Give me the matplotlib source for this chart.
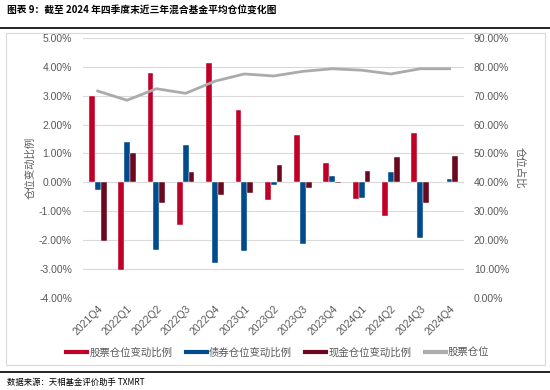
import matplotlib.pyplot as plt
import numpy as np
from matplotlib.lines import Line2D
from matplotlib.patches import Rectangle
from matplotlib.ticker import FuncFormatter

plt.rcParams['font.family'] = ['Liberation Sans', 'Noto Sans CJK SC', 'DejaVu Sans']

quarters = ['2021Q4', '2022Q1', '2022Q2', '2022Q3', '2022Q4', '2023Q1', '2023Q2',
            '2023Q3', '2023Q4', '2024Q1', '2024Q2', '2024Q3', '2024Q4']
stock_chg = [2.98, -3.02, 3.79, -1.49, 4.12, 2.50, -0.60, 1.64, 0.67, -0.59, -1.16, 1.71, 0.02]
bond_chg = [-0.25, 1.38, -2.33, 1.30, -2.79, -2.39, -0.10, -2.12, 0.23, -0.55, 0.37, -1.93, 0.13]
cash_chg = [-2.02, 1.02, -0.73, 0.36, -0.44, -0.36, 0.61, -0.21, -0.02, 0.39, 0.89, -0.73, 0.91]
stock_pos = [71.6, 68.4, 72.4, 70.8, 75.0, 77.5, 76.8, 78.4, 79.3, 78.8, 77.5, 79.3, 79.3]

c_stock = '#C00027'
c_bond = '#004B8D'
c_cash = '#6B0A1E'
c_line = '#ABABAB'
tick_col = '#595959'
cjk = ['Noto Sans CJK SC', 'DejaVu Sans']

fig = plt.figure(figsize=(5.5, 3.9), dpi=100)

# title and separators
fig.text(0.012, 0.972, '图表 9：截至 2024 年四季度末近三年混合基金平均仓位变化图',
         fontsize=7, fontweight='bold', va='center', ha='left', family=cjk)
fig.add_artist(Line2D([0.0, 1.0], [0.928, 0.928], color='black', lw=1.2))
fig.add_artist(Rectangle((0.01, 0.065), 0.98, 0.85, fill=False, ec='#D9D9D9', lw=0.8))
fig.add_artist(Line2D([0.0, 1.0], [0.046, 0.046], color='black', lw=1.2))
fig.text(0.012, 0.02, '数据来源：天相基金评价助手 TXMRT', fontsize=6, va='center', ha='left',
         family=cjk)

ax = fig.add_axes([0.151, 0.236, 0.693, 0.667])
x = np.arange(len(quarters))
w = 0.2
ax.bar(x - w, stock_chg, w, color=c_stock, edgecolor='white', linewidth=0.3, zorder=2)
ax.bar(x, bond_chg, w, color=c_bond, edgecolor='white', linewidth=0.3, zorder=2)
ax.bar(x + w, cash_chg, w, color=c_cash, edgecolor='white', linewidth=0.3, zorder=2)

ax.set_ylim(-4, 5)
ax.set_yticks(np.arange(-4, 6, 1))
ax.yaxis.set_major_formatter(FuncFormatter(lambda v, p: f'{v:.2f}%'))
ax.set_xlim(-0.5, len(quarters) - 0.5)
ax.set_xticks(x)
ax.set_xticklabels(quarters, rotation=45, ha='right', rotation_mode='anchor')
ax.grid(axis='y', color='#D9D9D9', lw=0.8, zorder=0)
ax.set_axisbelow(True)
for s in ax.spines.values():
    s.set_visible(False)
ax.tick_params(length=0, labelsize=7.5, labelcolor=tick_col, pad=8)
ax.tick_params(axis='x', pad=4)
ax.set_ylabel('仓位变动比例', fontsize=7.5, color=tick_col, family=cjk)
ax.yaxis.set_label_coords(-0.125, 0.5)

ax2 = ax.twinx()
ax2.plot(x, stock_pos, color=c_line, lw=2, zorder=3)
ax2.set_ylim(0, 90)
ax2.set_yticks(np.arange(0, 100, 10))
ax2.yaxis.set_major_formatter(FuncFormatter(lambda v, p: f'{v:.2f}%'))
for s in ax2.spines.values():
    s.set_visible(False)
ax2.tick_params(length=0, labelsize=7.5, labelcolor=tick_col, pad=7)
ax2.set_ylabel('仓位占比', fontsize=7.5, color=tick_col, rotation=270, va='center', family=cjk)
ax2.yaxis.set_label_coords(1.145, 0.5)

handles = [Line2D([], [], color=c_stock, lw=3),
           Line2D([], [], color=c_bond, lw=3),
           Line2D([], [], color=c_cash, lw=3),
           Line2D([], [], color=c_line, lw=3)]
labels = ['股票仓位变动比例', '债券仓位变动比例', '现金仓位变动比例', '股票仓位']
leg = fig.legend(handles, labels, loc='center', bbox_to_anchor=(0.505, 0.097), ncol=4,
                 frameon=False, fontsize=7.5, handlelength=2.0, handletextpad=0.2,
                 columnspacing=1.3, prop={'family': cjk, 'size': 7.5})
for t in leg.get_texts():
    t.set_color(tick_col)

fig.savefig('out.png', dpi=100)
